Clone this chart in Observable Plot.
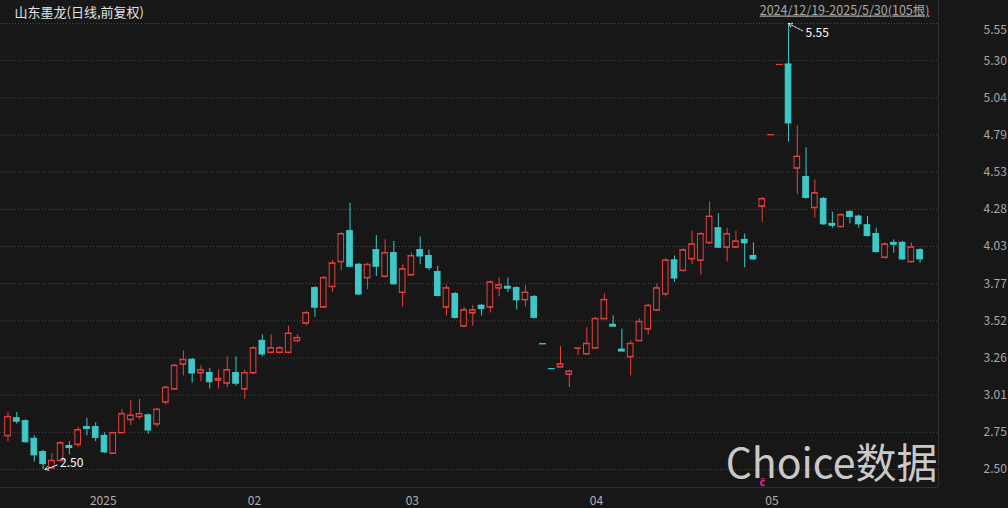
<!DOCTYPE html>
<html><head><meta charset="utf-8">
<script src="https://cdn.jsdelivr.net/npm/d3@7"></script>
<script src="https://cdn.jsdelivr.net/npm/@observablehq/plot@0.6"></script>
<style>
html,body{margin:0;padding:0;background:#171717;overflow:hidden;}
#chart svg{display:block;}
</style></head><body><div id="chart"></div>
<script>
const title = "山东墨龙(日线,前复权)";
const rangeLabel = "2024/12/19-2025/5/30(105根)";
const watermark = "Choice数据";
const eventMark = "ĉ";
const eventIndex = 86;

const openP = [2.73,2.85,2.83,2.71,2.62,2.51,2.56,2.66,2.67,2.79,
2.79,2.73,2.61,2.75,2.84,2.86,2.87,2.81,2.96,3.05,
3.22,3.25,3.16,3.16,3.11,3.09,3.16,3.05,3.16,3.38,
3.30,3.30,3.30,3.38,3.50,3.74,3.61,3.75,3.92,4.13,
3.90,3.81,4.00,3.82,3.98,3.71,3.83,4.00,3.96,3.85,
3.61,3.70,3.48,3.57,3.62,3.61,3.74,3.75,3.74,3.66,
3.68,3.36,3.19,3.20,3.15,3.33,3.29,3.33,3.53,3.49,
3.32,3.27,3.38,3.46,3.59,3.70,3.93,3.86,3.94,3.93,
4.05,4.15,4.02,4.02,4.07,3.96,4.30,4.79,5.27,5.27,
4.56,4.50,4.29,4.35,4.18,4.16,4.26,4.23,4.17,4.11,
3.95,4.05,4.05,3.92,4.00];
const highP = [2.89,2.89,2.84,2.73,2.63,2.61,2.69,2.69,2.79,2.85,
2.82,2.75,2.75,2.91,2.97,2.98,2.88,2.92,3.07,3.22,
3.31,3.26,3.21,3.19,3.18,3.27,3.27,3.18,3.34,3.42,
3.42,3.34,3.48,3.42,3.58,3.75,3.82,3.93,4.12,4.32,
3.91,3.91,4.10,4.07,4.06,3.90,3.98,4.09,4.00,3.89,
3.76,3.71,3.61,3.62,3.63,3.79,3.81,3.81,3.75,3.76,
3.69,3.36,3.19,3.34,3.18,3.33,3.47,3.54,3.70,3.55,
3.46,3.38,3.53,3.63,3.77,3.94,3.96,4.01,4.13,4.12,
4.33,4.25,4.15,4.13,4.11,4.05,4.36,4.79,5.27,5.55,
4.85,4.70,4.48,4.36,4.26,4.25,4.27,4.24,4.23,4.15,
4.05,4.07,4.06,4.05,4.01];
const lowP = [2.69,2.81,2.68,2.55,2.50,2.51,2.55,2.60,2.65,2.73,
2.69,2.61,2.61,2.75,2.80,2.84,2.74,2.79,2.94,3.04,
3.14,3.09,3.10,3.05,3.05,3.06,3.07,2.98,3.15,3.27,
3.29,3.29,3.29,3.37,3.48,3.54,3.60,3.71,3.86,3.88,
3.69,3.73,3.82,3.81,3.76,3.61,3.82,3.90,3.86,3.68,
3.55,3.53,3.47,3.48,3.55,3.57,3.68,3.71,3.59,3.61,
3.53,3.36,3.19,3.20,3.06,3.28,3.28,3.32,3.53,3.48,
3.31,3.14,3.38,3.42,3.58,3.68,3.78,3.85,3.90,3.83,
4.04,4.01,3.92,4.01,3.88,3.93,4.19,4.79,5.27,4.74,
4.38,4.35,4.22,4.17,4.15,4.15,4.18,4.15,4.09,3.98,
3.94,3.98,3.93,3.91,3.91];
const closeP = [2.86,2.83,2.69,2.60,2.54,2.56,2.68,2.65,2.77,2.78,
2.72,2.62,2.75,2.88,2.87,2.88,2.77,2.91,3.06,3.21,
3.25,3.16,3.18,3.10,3.12,3.18,3.09,3.16,3.33,3.29,
3.33,3.33,3.43,3.40,3.57,3.61,3.81,3.91,4.11,3.89,
3.70,3.90,3.89,3.98,3.77,3.87,3.96,3.96,3.88,3.69,
3.74,3.54,3.59,3.59,3.60,3.78,3.76,3.74,3.66,3.71,
3.54,3.36,3.19,3.22,3.17,3.33,3.36,3.53,3.66,3.48,
3.31,3.36,3.51,3.62,3.74,3.93,3.81,4.00,4.04,4.11,
4.23,4.02,4.11,4.06,4.05,3.94,4.35,4.79,5.27,4.87,
4.64,4.36,4.39,4.18,4.17,4.24,4.23,4.18,4.10,3.99,
4.04,4.04,3.94,4.02,3.94];

const monthTickIndex = [9, 27, 45, 66, 86];
const monthTickLabels = ["2025", "02", "03", "04", "05"];
const yMin = 2.50, yMax = 5.55, yDivisions = 12;

const RED = "#e8403f", CYAN = "#3ec8c8", BG = "#171717";

const candles = openP.map((o, i) => {
  const c = closeP[i];
  const prev = i > 0 ? closeP[i - 1] : o;
  const up = c > o || (c === o && c >= prev);
  return {i, open: o, high: highP[i], low: lowP[i], close: c, up};
});
const colorOf = d => d.up ? RED : CYAN;
const yTicks = d3.range(yDivisions + 1).map(k => yMin + k * (yMax - yMin) / yDivisions);
const fmt = d => (d + 1e-9).toFixed(2);

const hiIdx = d3.maxIndex(highP), loIdx = d3.minIndex(lowP);
const hiPt = {i: hiIdx, v: highP[hiIdx]};
const loPt = {i: loIdx, v: lowP[loIdx]};
const half = 0.32;
const FONT = "'Noto Sans CJK SC','Noto Sans',sans-serif";

const chart = Plot.plot({
  width: 1008, height: 508,
  marginTop: 23, marginBottom: 39, marginLeft: 0, marginRight: 70,
  style: {background: BG, color: "#aaa", fontFamily: FONT, fontSize: "12px"},
  x: {domain: [-0.855, 106.1], axis: null},
  y: {domain: [yMin, yMax], axis: null},
  marks: [
    Plot.ruleY(yTicks, {stroke: "#4a4a4a", strokeDasharray: "1,2"}),
    Plot.ruleY([yMin], {stroke: "#2e2e2e", dy: 18}),
    Plot.ruleX([106.1], {stroke: "#2e2e2e", insetTop: -23, insetBottom: -18}),
    Plot.ruleX(candles, {x: "i", y1: "low", y2: "high", stroke: colorOf}),
    Plot.rect(candles, {x1: d => d.i - half, x2: d => d.i + half, y1: "open", y2: "close",
      fill: d => d.up ? BG : CYAN, stroke: colorOf}),
    Plot.ruleY(candles, {y: "close", x1: d => d.i - half - 0.06, x2: d => d.i + half + 0.06, stroke: colorOf}),
    Plot.ruleY(candles, {y: "open", x1: d => d.i - half - 0.06, x2: d => d.i + half + 0.06, stroke: colorOf}),
    Plot.text(yTicks.slice(0, -1), {y: d => d, text: fmt, frameAnchor: "right",
      textAnchor: "start", lineAnchor: "middle", dx: 45, fill: "#a8a8a8"}),
    Plot.text(yTicks.slice(-1), {y: d => d, text: fmt, frameAnchor: "right",
      textAnchor: "start", lineAnchor: "middle", dx: 45, dy: 7, fill: "#a8a8a8"}),
    Plot.text(monthTickIndex, {x: d => d, text: (d, k) => monthTickLabels[k], frameAnchor: "bottom",
      textAnchor: "start", lineAnchor: "middle", dx: 3, dy: 32, fill: "#b0b0b0"}),
    Plot.text([title], {frameAnchor: "top-left", textAnchor: "start", lineAnchor: "middle", dx: 14, dy: -11,
      fill: "#e2e2e2", fontSize: 13}),
    Plot.text([rangeLabel], {frameAnchor: "top-right", textAnchor: "end", lineAnchor: "middle", dx: -9, dy: -13,
      fill: "#a8a8a8", fontSize: 12.5}),
    Plot.text([watermark], {frameAnchor: "bottom-right", textAnchor: "end", lineAnchor: "middle", dx: -1, dy: -5,
      fill: "#c9c9c9", fontSize: 41}),
    Plot.text([eventMark], {x: eventIndex, frameAnchor: "bottom", lineAnchor: "middle", dy: 13, fill: "#e2268e",
      fontSize: 11, fontWeight: "bold"}),
    Plot.arrow([hiPt], {x1: d => d.i + 1.6, y1: d => d.v - 0.05, x2: "i", y2: "v",
      stroke: "#ffffff", strokeWidth: 1, headLength: 6, strokeDasharray: "2,1.5", bend: 0}),
    Plot.text([hiPt], {x: "i", y: "v", text: d => fmt(d.v), textAnchor: "start", lineAnchor: "middle",
      dx: 17, dy: 10, fill: "#ffffff"}),
    Plot.arrow([loPt], {x1: d => d.i + 1.6, y1: d => d.v + 0.03, x2: d => d.i + 0.2, y2: "v",
      stroke: "#ffffff", strokeWidth: 1, headLength: 6, strokeDasharray: "2,1.5", bend: 0}),
    Plot.text([loPt], {x: "i", y: "v", text: d => fmt(d.v), textAnchor: "start", lineAnchor: "middle",
      dx: 17, dy: -6, fill: "#ffffff"})
  ]
});
d3.select(chart).selectAll("text").filter(function() { return this.textContent === rangeLabel; })
  .style("text-decoration", "underline");
document.getElementById("chart").appendChild(chart);
</script></body></html>
